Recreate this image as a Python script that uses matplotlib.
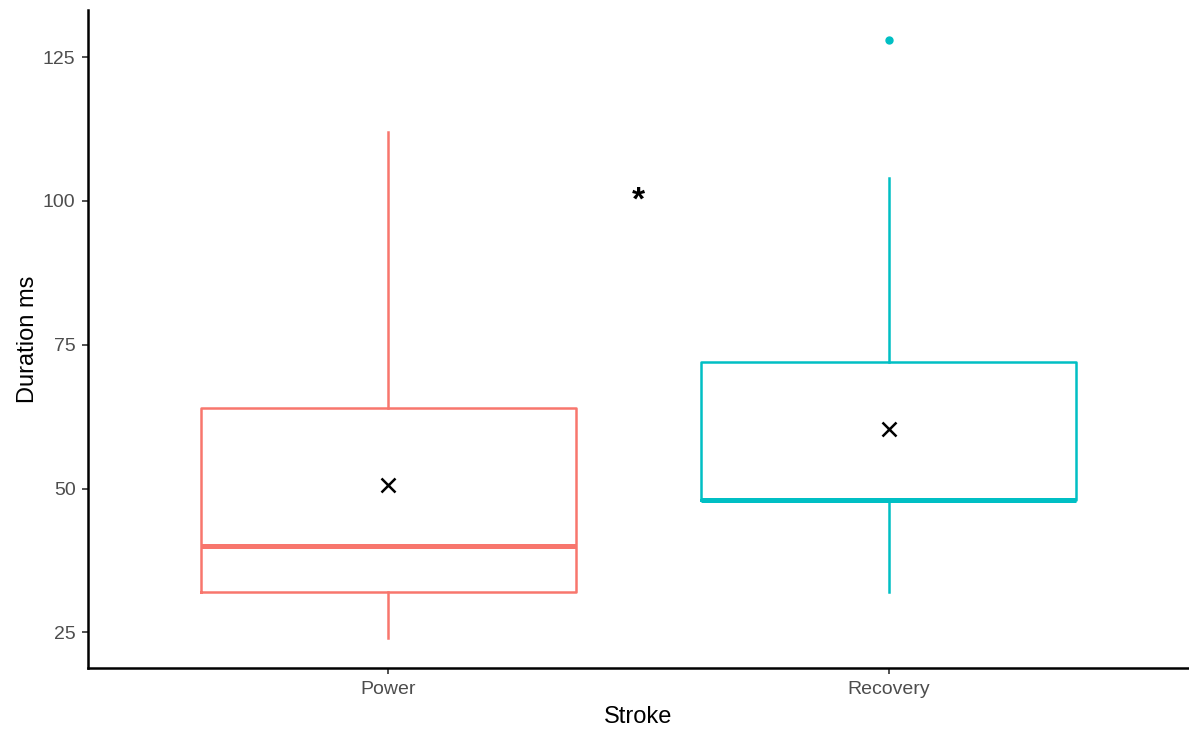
import matplotlib
matplotlib.use("Agg")
import matplotlib.pyplot as plt

categories = ["Power", "Recovery"]
colors = ["#F8766D", "#00BFC4"]
whisker_low = [24, 32]
q1 = [32, 48]
median = [40, 48]
q3 = [64, 72]
whisker_high = [112, 104]
outliers = [[], [128]]
means = [50.6, 60.4]
sig_label = "*"
sig_x = 1.5
sig_y = 100
y_ticks = [25, 50, 75, 100, 125]

plt.rcParams['font.family'] = ['Liberation Sans', 'DejaVu Sans']
fig = plt.figure(figsize=(11.89, 7.31), dpi=100)
ax = fig.add_axes([88/1189, 63/731, 1 - 88/1189, (668-10)/731])

positions = [1, 2]
for i, cat in enumerate(categories):
    st = [dict(med=median[i], q1=q1[i], q3=q3[i], whislo=whisker_low[i],
               whishi=whisker_high[i], fliers=outliers[i], label=cat)]
    c = colors[i]
    ax.bxp(st, positions=[positions[i]], widths=0.75, showcaps=False,
           patch_artist=False, manage_ticks=False,
           boxprops=dict(color=c, linewidth=1.8),
           whiskerprops=dict(color=c, linewidth=1.8),
           medianprops=dict(color=c, linewidth=3.6, solid_capstyle='butt'),
           flierprops=dict(marker='o', markerfacecolor=c, markeredgecolor=c,
                           markersize=5))
    ax.plot(positions[i], means[i], marker='x', color='black', markersize=10,
            markeredgewidth=1.8, linestyle='none', zorder=5)

ax.text(sig_x, sig_y, sig_label, ha='center', va='center', fontsize=24,
        color='black', fontweight='bold')

ax.set_xlim(0.4, 2.6)
ax.set_ylim(18.8, 133.2)
ax.set_xticks(positions)
ax.set_xticklabels(categories)
ax.set_yticks(y_ticks)
ax.set_xlabel("Stroke", fontsize=17, color='black', labelpad=6)
ax.set_ylabel("Duration ms", fontsize=17, color='black', labelpad=3)
ax.tick_params(axis='both', labelsize=14, labelcolor='#4D4D4D', color='#333333',
               length=4, width=1.2, pad=5)
for s in ['top', 'right']:
    ax.spines[s].set_visible(False)
for s in ['left', 'bottom']:
    ax.spines[s].set_linewidth(1.8)
    ax.spines[s].set_color('black')

fig.savefig("out.png", dpi=100)
